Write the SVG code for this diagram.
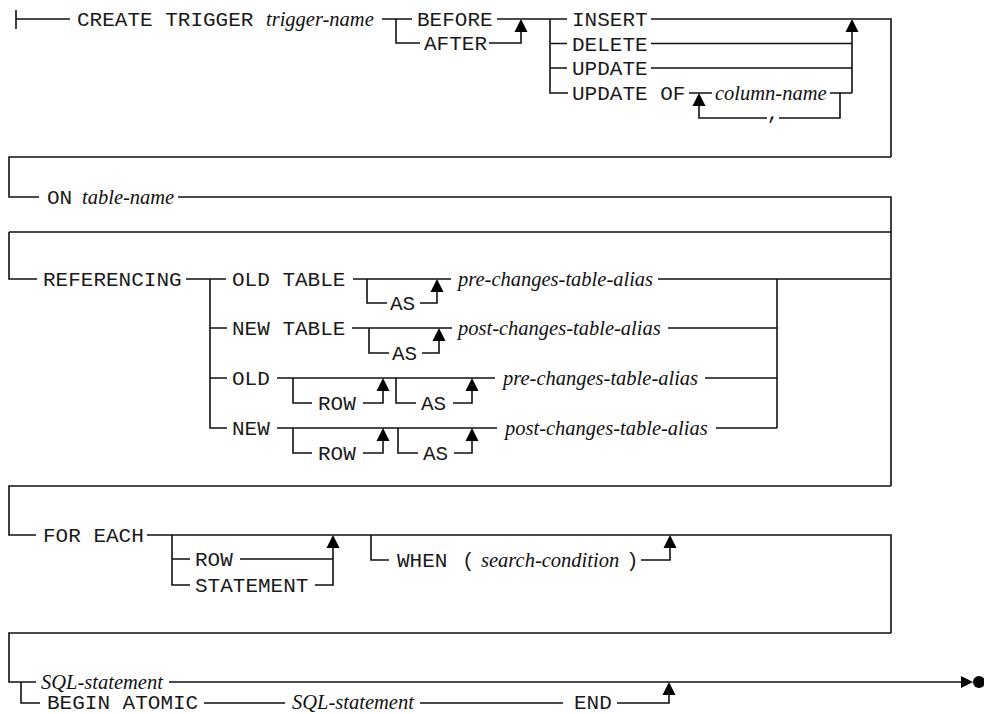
<svg xmlns="http://www.w3.org/2000/svg" xmlns:xlink="http://www.w3.org/1999/xlink" width="984" height="714" viewBox="0 0 984 714">
<style>
.l{stroke:#111;stroke-width:1.6;fill:none}
.m{font-family:"Liberation Mono","Courier New",monospace;font-size:21px;fill:#1a1a1a}
.i{font-family:"Liberation Serif","Times New Roman",serif;font-style:italic;font-size:20.5px;fill:#111}
.a{fill:#000}
</style>
<defs>
<path id="up" class="a" d="M0,0 L-6.5,13 L6.5,13 Z"/>
</defs>
<rect width="984" height="714" fill="#fff"/>
<g id="connectors">
<path class="l" d="M16,10 V29 M16,19 H70"/>
<path class="l" d="M382,19 H412 M396,19 V43 H420 M489,43 H521 V31 M497,19 H567"/>
<path class="l" d="M550,19 V93 H568 M550,43.5 H567 M550,68 H567"/>
<path class="l" d="M651,19 H891 V157 M651,43.5 H852 M651,68 H852 M852,31 V93"/>
<path class="l" d="M689,93 H712 M830,93 H852 M840,93 V118 H779 M767,118 H699 V105"/>
<path class="l" d="M891,157 H9 V197 H39 M178,197 H891 V486"/>
<path class="l" d="M9,232 H891 M9,232 V279 H37 M186,279 H226 M210,279 V428 H227"/>
<path class="l" d="M353,279 H451 M367,279 V303 H387 M420,303 H437 V291 M658,279 H891"/>
<path class="l" d="M210,328 H227 M352,328 H452 M369,328 V353 H389 M422,353 H439 V340 M668,328 H777"/>
<path class="l" d="M777,279 V428"/>
<path class="l" d="M210,378 H227 M277,378 H495 M293,378 V403 H312 M363,403 H383 V390 M396,378 V403 H416 M453,403 H472 V390 M705,378 H777"/>
<path class="l" d="M277,428 H497 M293,428 V453 H312 M363,453 H383 V440 M398,428 V453 H418 M454,453 H472 V440 M716,428 H777"/>
<path class="l" d="M891,486 H9 V535 H36 M147,535 H891 V633"/>
<path class="l" d="M172,535 V585 H190 M172,559 H190 M240,559 H333 M315,585 H333 V547"/>
<path class="l" d="M371,535 V560 H389 M641,560 H670 V547"/>
<path class="l" d="M891,633 H9 V682 H36 M169,682 H962"/>
<path class="l" d="M21,682 V703 H40 M204,703 H285 M420,703 H563 M617,703 H669 V694"/>
<use xlink:href="#up" x="521" y="19"/>
<use xlink:href="#up" x="852" y="19"/>
<use xlink:href="#up" x="699" y="93"/>
<use xlink:href="#up" x="437" y="279"/>
<use xlink:href="#up" x="439" y="328"/>
<use xlink:href="#up" x="383" y="378"/>
<use xlink:href="#up" x="472" y="378"/>
<use xlink:href="#up" x="383" y="428"/>
<use xlink:href="#up" x="472" y="428"/>
<use xlink:href="#up" x="333" y="535"/>
<use xlink:href="#up" x="670" y="535"/>
<use xlink:href="#up" x="669" y="682"/>
<path class="a" d="M973,682 L961,676 L961,688 Z"/>
<circle class="a" cx="979" cy="682" r="6"/>
</g>
<g id="create"><text class="m" x="77" y="26">CREATE TRIGGER</text><text class="i" x="266" y="26">trigger-name</text></g>
<g id="before"><text class="m" x="417" y="26">BEFORE</text></g>
<g id="after"><text class="m" x="424" y="50">AFTER</text></g>
<g id="insert"><text class="m" x="572" y="26">INSERT</text></g>
<g id="delete"><text class="m" x="572" y="50.5">DELETE</text></g>
<g id="update"><text class="m" x="572" y="75">UPDATE</text></g>
<g id="update-of"><text class="m" x="572" y="100">UPDATE OF</text><text class="i" x="715" y="100">column-name</text></g>
<g id="comma"><text class="m" x="773" y="119" text-anchor="middle">,</text></g>
<g id="on"><text class="m" x="47" y="204">ON</text><text class="i" x="82" y="204">table-name</text></g>
<g id="referencing"><text class="m" x="43" y="286">REFERENCING</text></g>
<g id="old-table"><text class="m" x="232" y="286">OLD TABLE</text></g>
<g id="as1"><text class="m" x="390" y="310">AS</text></g>
<g id="pre1"><text class="i" x="458" y="286">pre-changes-table-alias</text></g>
<g id="new-table"><text class="m" x="232" y="335">NEW TABLE</text></g>
<g id="as2"><text class="m" x="392" y="360">AS</text></g>
<g id="post1"><text class="i" x="458" y="335">post-changes-table-alias</text></g>
<g id="old"><text class="m" x="232" y="385">OLD</text></g>
<g id="row1"><text class="m" x="318" y="410">ROW</text></g>
<g id="as3"><text class="m" x="421" y="410">AS</text></g>
<g id="pre2"><text class="i" x="503" y="385">pre-changes-table-alias</text></g>
<g id="new"><text class="m" x="232" y="435">NEW</text></g>
<g id="row2"><text class="m" x="318" y="460">ROW</text></g>
<g id="as4"><text class="m" x="423" y="460">AS</text></g>
<g id="post2"><text class="i" x="505" y="435">post-changes-table-alias</text></g>
<g id="for-each"><text class="m" x="43" y="542">FOR EACH</text></g>
<g id="row3"><text class="m" x="195" y="566">ROW</text></g>
<g id="statement"><text class="m" x="195" y="592">STATEMENT</text></g>
<g id="when"><text class="m" x="397" y="567">WHEN</text><text class="m" x="462" y="567">(</text><text class="i" x="481" y="567">search-condition</text><text class="m" x="626" y="567">)</text></g>
<g id="sql1"><text class="i" x="41" y="689">SQL-statement</text></g>
<g id="begin"><text class="m" x="47" y="709">BEGIN ATOMIC</text></g>
<g id="sql2"><text class="i" x="292" y="709">SQL-statement</text></g>
<g id="end"><text class="m" x="574" y="709">END</text></g>
</svg>
